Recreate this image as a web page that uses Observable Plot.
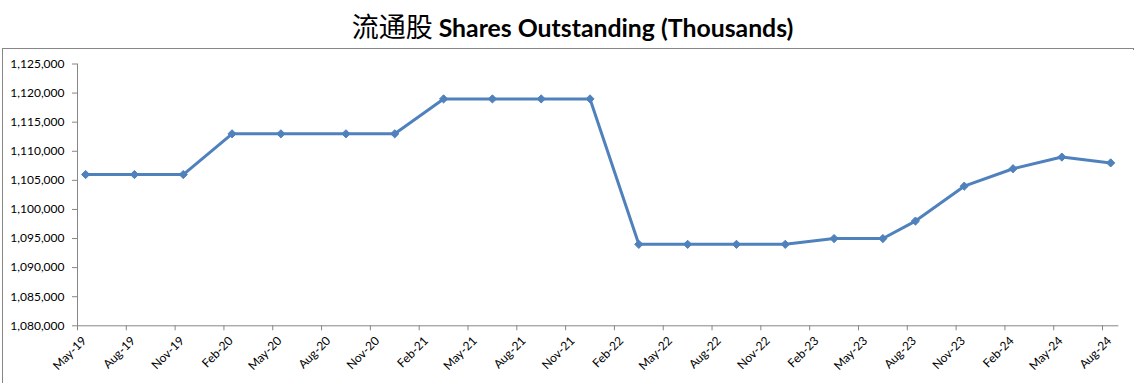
<!DOCTYPE html>
<html>
<head>
<meta charset="utf-8">
<script src="https://cdn.jsdelivr.net/npm/d3@7"></script>
<script src="https://cdn.jsdelivr.net/npm/@observablehq/plot@0.6"></script>
<style>
  html, body { margin: 0; padding: 0; background: #fff; overflow: hidden; }
  body { position: relative; width: 1135px; height: 383px; }
  #title { position: absolute; left: 10px; top: 9px; width: 1125px; text-align: center;
           font-family: Lato, "Open Sans", sans-serif; font-weight: bold; font-size: 24.8px; line-height: 34px; color: #000; }
  #title .cjk { font-family: "Noto Sans CJK SC", sans-serif; font-weight: normal; font-size: 27px; }
  #frame { position: absolute; left: 2px; top: 48px; width: 1130px; height: 360px; border: 1px solid #868686; }
  #chart { position: absolute; left: 3px; top: 50px; }
</style>
</head>
<body>
<div id="title"><span class="cjk">流通股</span> Shares Outstanding (Thousands)</div>
<div id="frame"></div>
<div id="chart"></div>
<script>
// Data
const dates = ["2019-05","2019-08","2019-11","2020-02","2020-05","2020-09","2020-12","2021-03","2021-06","2021-09","2021-12",
               "2022-03","2022-06","2022-09","2022-12","2023-03","2023-06","2023-08","2023-11","2024-02","2024-05","2024-08"];
const shares = [1106000,1106000,1106000,1113000,1113000,1113000,1113000,1119000,1119000,1119000,1119000,
                1094000,1094000,1094000,1094000,1095000,1095000,1098000,1104000,1107000,1109000,1108000];
const tickLabels = ["May-19","Aug-19","Nov-19","Feb-20","May-20","Aug-20","Nov-20","Feb-21","May-21","Aug-21","Nov-21",
                    "Feb-22","May-22","Aug-22","Nov-22","Feb-23","May-23","Aug-23","Nov-23","Feb-24","May-24","Aug-24"];
const yTicks = [1080000,1085000,1090000,1095000,1100000,1105000,1110000,1115000,1120000,1125000];
const axisStart = "2019-05";
const axisEnd = "2024-09";

// month-based axis (each month equal width, like an Excel date axis with month base unit)
const mIdx = (y, m) => y * 12 + m;
const [sy, sm] = axisStart.split("-").map(Number);
const start = mIdx(sy, sm);
const fromIso = s => { const [y, m] = s.split("-").map(Number); return mIdx(y, m) - start; };
const parseLbl = d3.utcParse("%b-%y");
const fromLabel = s => { const d = parseLbl(s); return mIdx(d.getUTCFullYear(), d.getUTCMonth() + 1) - start; };

const data = dates.map((d, i) => ({ m: fromIso(d) + 0.5, v: shares[i] }));
const tickPos = tickLabels.map(fromLabel);
const labelOf = new Map(tickLabels.map((l, i) => [tickPos[i], l]));

const axisColor = "#868686";
const blue = "#4F81BD";

const chart = Plot.plot({
  width: 1131,
  height: 335,
  marginLeft: 74,
  marginRight: 15.7,
  marginTop: 13.5,
  marginBottom: 59.7,
  style: { fontFamily: "Lato, 'Open Sans', sans-serif", fontSize: "12px", color: "#000", background: "white", overflow: "visible" },
  x: { type: "linear", domain: [0, fromIso(axisEnd)] },
  y: { domain: [yTicks[0], yTicks[yTicks.length - 1]] },
  marks: [
    Plot.axisY({ ticks: yTicks, tickFormat: d3.format(","), tickSize: 5, tickPadding: 8, stroke: axisColor, label: null, fill: "#000" }),
    // x tick marks
    Plot.axisX({ ticks: tickPos, tickFormat: () => "", tickSize: 5, stroke: axisColor, label: null }),
    // x tick labels (rotated, nudged like Excel)
    Plot.axisX({ ticks: tickPos, tickFormat: d => labelOf.get(d), tickSize: 0, tickRotate: -45, tickPadding: 9, dx: 7, dy: 4, label: null, fill: "#000", fontSize: 12 }),
    Plot.ruleX([0], { stroke: axisColor }),
    Plot.ruleY([yTicks[0]], { stroke: axisColor }),
    Plot.line(data, { x: "m", y: "v", stroke: blue, strokeWidth: 3 }),
    Plot.dot(data, { x: "m", y: "v", symbol: "diamond2", r: 3.7, fill: blue, stroke: blue, strokeWidth: 1 })
  ]
});
document.getElementById("chart").append(chart);
</script>
</body>
</html>
